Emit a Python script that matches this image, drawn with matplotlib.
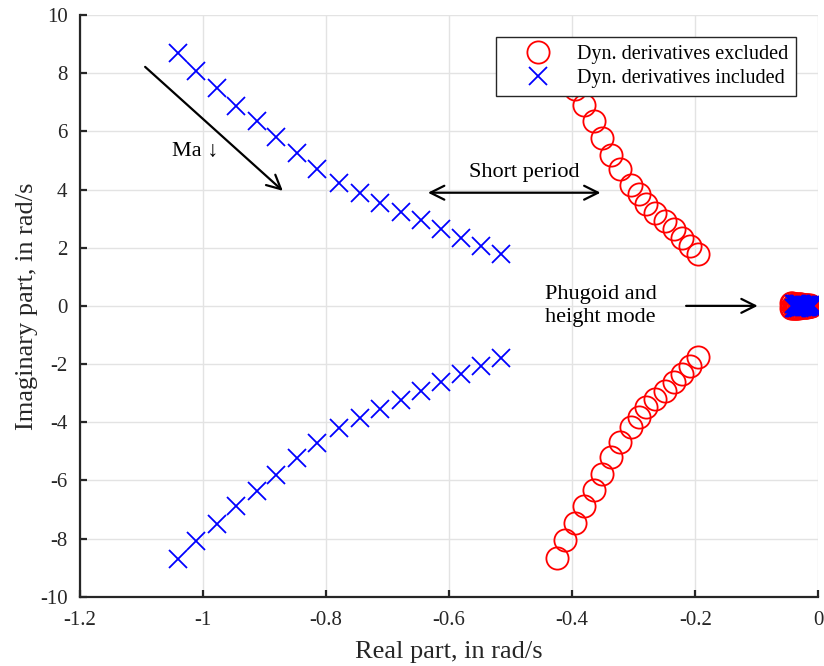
import matplotlib.pyplot as plt
import numpy as np

plt.rcParams['font.family'] = ['Liberation Serif', 'DejaVu Serif']
plt.rcParams['axes.unicode_minus'] = False

# short period poles, upper half (lower half are conjugates)
sp_excl_re = [-0.424, -0.411, -0.395, -0.381, -0.365, -0.351, -0.337, -0.322, -0.304,
              -0.292, -0.280, -0.265, -0.250, -0.235, -0.221, -0.209, -0.195]
sp_excl_im = [8.68, 8.06, 7.46, 6.89, 6.34, 5.77, 5.20, 4.69, 4.17,
              3.83, 3.49, 3.20, 2.91, 2.63, 2.34, 2.06, 1.77]
sp_incl_re = [-1.041, -1.011, -0.978, -0.946, -0.913, -0.881, -0.848, -0.815, -0.779,
              -0.745, -0.712, -0.679, -0.646, -0.613, -0.581, -0.548, -0.515]
sp_incl_im = [8.71, 8.09, 7.49, 6.88, 6.36, 5.81, 5.24, 4.72, 4.21,
              3.87, 3.54, 3.22, 2.94, 2.63, 2.34, 2.06, 1.80]

# phugoid / height mode poles near the origin
ph_excl_re = [-0.044, -0.042, -0.040, -0.038, -0.036, -0.034, -0.032, -0.030, -0.028,
              -0.026, -0.024, -0.022, -0.020, -0.018, -0.016, -0.014, -0.012]
ph_excl_im = [0.09, 0.085, 0.08, 0.075, 0.07, 0.065, 0.06, 0.055, 0.05,
              0.045, 0.04, 0.035, 0.03, 0.025, 0.02, 0.015, 0.01]
ph_incl_re = [-0.040, -0.038, -0.036, -0.034, -0.032, -0.030, -0.028, -0.026, -0.024,
              -0.022, -0.020, -0.018, -0.016, -0.014, -0.012, -0.010, -0.008]
ph_incl_im = [0.08, 0.075, 0.07, 0.065, 0.06, 0.055, 0.05, 0.045, 0.04,
              0.035, 0.03, 0.027, 0.024, 0.02, 0.016, 0.012, 0.008]
height_excl = [-0.030, -0.026, -0.022, -0.018, -0.014]
height_incl = [-0.028, -0.024, -0.020, -0.016, -0.012]

xticks = [-1.2, -1, -0.8, -0.6, -0.4, -0.2, 0]
xticklabels = ['-1.2', '-1', '-0.8', '-0.6', '-0.4', '-0.2', '0']
yticks = [-10, -8, -6, -4, -2, 0, 2, 4, 6, 8, 10]


def all_poles(sp_re, sp_im, ph_re, ph_im, h_re):
    re = np.concatenate([sp_re, sp_re, ph_re, ph_re, h_re])
    im = np.concatenate([sp_im, -np.array(sp_im), ph_im, -np.array(ph_im), np.zeros(len(h_re))])
    return re, im


fig = plt.figure(figsize=(8.24, 6.66), dpi=100)
ax = fig.add_axes([0.0971, 0.104, 0.896, 0.8735])

re_e, im_e = all_poles(sp_excl_re, sp_excl_im, ph_excl_re, ph_excl_im, height_excl)
re_i, im_i = all_poles(sp_incl_re, sp_incl_im, ph_incl_re, ph_incl_im, height_incl)

ax.plot(re_e, im_e, 'o', ms=16, mfc='none', mec='red', mew=1.3,
        label='Dyn. derivatives excluded', zorder=3)
ax.plot(re_i, im_i, 'x', ms=13, mec='blue', mew=1.3,
        label='Dyn. derivatives included', zorder=4)

ax.set_xlim(-1.2, 0)
ax.set_ylim(-10, 10)
ax.set_xticks(xticks)
ax.set_xticklabels(xticklabels)
ax.set_yticks(yticks)
ax.grid(True, color='#e3e3e3', lw=1)
ax.set_axisbelow(True)
for s in ['top', 'right']:
    ax.spines[s].set_visible(False)
for s in ['left', 'bottom']:
    ax.spines[s].set_linewidth(1.6)
    ax.spines[s].set_color('#262626')
ax.tick_params(direction='in', length=5, width=1.6, colors='#262626',
               labelsize=15, labelcolor='#262626')
ax.tick_params(axis='x', pad=10)
ax.tick_params(axis='y', pad=9)
ax.set_xlabel('Real part, in rad/s', fontsize=19, color='#262626', labelpad=8)
ax.set_ylabel('Imaginary part, in rad/s', fontsize=19, color='#262626', labelpad=1)

aprops = dict(arrowstyle='->', color='black', lw=1.6, mutation_scale=25)
ax.annotate('', xy=(-0.867, 3.89), xytext=(-1.0975, 8.28), arrowprops=aprops)
ax.annotate('', xy=(-0.3495, 3.89), xytext=(-0.639, 3.89),
            arrowprops=dict(aprops, arrowstyle='<->'))
ax.annotate('', xy=(-0.094, 0.0), xytext=(-0.2194, 0.0), arrowprops=aprops)

ax.text(-1.013, 5.30, 'Ma \u2193', fontsize=16, ha='center', va='center')
ax.text(-0.478, 4.58, 'Short period', fontsize=16, ha='center', va='center')
ax.text(-0.444, 0.0, 'Phugoid and\nheight mode', fontsize=16, ha='left', va='center',
        linespacing=1.25)

leg = ax.legend(loc='upper right', bbox_to_anchor=(0.970, 0.962), borderaxespad=0,
                fontsize=14.5, frameon=True, fancybox=False, edgecolor='#262626',
                framealpha=1, handletextpad=0.3, borderpad=0.4, labelspacing=0.25,
                handlelength=3.3)
leg.get_frame().set_linewidth(1.0)
leg.set_zorder(10)

plt.savefig('out.png', dpi=100)
